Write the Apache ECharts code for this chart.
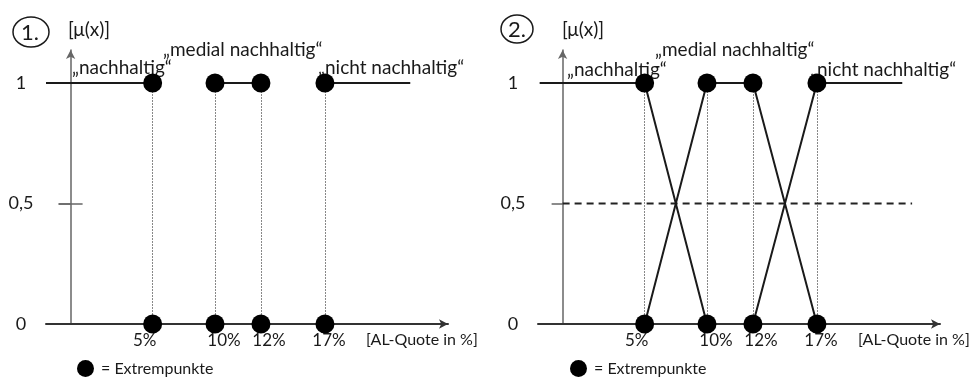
<!DOCTYPE html>
<html>
<head>
<meta charset="utf-8">
<script src="https://cdn.jsdelivr.net/npm/echarts@6/dist/echarts.min.js"></script>
<style>
	html, body { margin: 0; padding: 0; background: #fff; }
	#chart { width: 980px; height: 378px; }
</style>
</head>
<body>
<div id="chart"></div>
<script>
// schematic x positions of the extreme points (not to scale in the original)
const xPos = [5, 8.8, 11.6, 15.5]
const xLabels = ['5%', '10%', '12%', '17%']
const yTicks = [0, 0.5, 1]
const yLabels = ['0', '0,5', '1']
const xEnd = 20.7

// 1. crisp sets: membership 1 on these stretches
const crispTop = [[-1.5, 5], [8.8, 11.6], [15.5, xEnd]]
// 2. fuzzy sets
const fuzzyNachhaltig = [[-1.4, 1], [5, 1], [8.8, 0]]
const fuzzyMedial = [[5, 0], [8.8, 1], [11.6, 1], [15.5, 0]]
const fuzzyNicht = [[11.6, 0], [15.5, 1], [xEnd, 1]]
const halfLine = [[0, 0.5], [21.3, 0.5]]
const tickHalf = [[-0.73, 0.5], [0.73, 0.5]]

const FONT = 'Lato'
const ink = '#1a1a1a'
// labels in the original sit a little off their points (px nudge, style only)
const labelNudge = [-8, 9, 8, 4]

let chart = echarts.init(document.getElementById('chart'))

let extremes = []
xPos.forEach(x => { extremes.push([x, 0]); extremes.push([x, 1]) })
let verticals = xPos.map(x => ({ coords: [[x, 0], [x, 1]] }))

let rich = {}
labelNudge.forEach((n, i) => {
	rich['l' + i] = {
		color: ink, fontFamily: FONT, fontSize: 17,
		padding: n > 0 ? [0, 0, 0, 2 * n] : [0, -2 * n, 0, 0],
	}
})

function xAxis(gi) {
	return {
		type: 'value', gridIndex: gi, min: -1.5, max: 23,
		axisLine: { onZero: true, symbol: ['none', 'arrow'], symbolSize: [7, 9], lineStyle: { color: '#333', width: 2 } },
		axisTick: { show: false },
		splitLine: { show: false },
		axisLabel: {
			customValues: xPos, margin: 8,
			color: ink, fontFamily: FONT, fontSize: 17,
			rich: rich,
			formatter: v => {
				let i = xPos.indexOf(v)
				return i < 0 ? '' : `{l${i}|${xLabels[i]}}`
			},
		},
	}
}
function yAxis(gi, tickLen) {
	return {
		type: 'value', gridIndex: gi, min: 0, max: 1.137,
		axisLine: { onZero: true, symbol: ['none', 'arrow'], symbolSize: [7, 9], lineStyle: { color: '#666', width: 1.5 } },
		axisTick: { show: true, customValues: [0.5], length: tickLen, lineStyle: { color: '#666', width: 1.5 } },
		splitLine: { show: false },
		axisLabel: {
			customValues: yTicks, margin: 25, align: 'center',
			color: ink, fontFamily: FONT, fontSize: 18,
			formatter: v => yLabels[yTicks.indexOf(v)] || '',
		},
	}
}

function text(x, y, s, size) {
	return { type: 'text', x: x, y: y, style: { text: s, fill: ink, font: `${size}px ${FONT}`, verticalAlign: 'middle' } }
}

let legendStyle = {
	top: 360, padding: 0, icon: 'circle', itemWidth: 17, itemHeight: 17, itemGap: 4,
	data: ['= Extrempunkte'], selectedMode: false,
	textStyle: { color: ink, fontFamily: FONT, fontSize: 16, padding: [0, 0, 0, 2] },
}

let option = {
	animation: false,
	backgroundColor: '#fff',
	grid: [
		{ left: 46, right: 532, top: 50, bottom: 54, outerBoundsMode: 'none' },
		{ left: 538, right: 40, top: 50, bottom: 54, outerBoundsMode: 'none' },
	],
	xAxis: [xAxis(0), xAxis(1)],
	yAxis: [yAxis(0, 12), yAxis(1, 11)],
	legend: [
		Object.assign({ left: 77 }, legendStyle),
		Object.assign({ left: 570 }, legendStyle),
	],
	series: [
		// panel 1
		{
			type: 'lines', coordinateSystem: 'cartesian2d', xAxisIndex: 0, yAxisIndex: 0,
			data: verticals, lineStyle: { color: '#888', width: 1, type: [2, 1], opacity: 1 },
		},
		{
			type: 'lines', coordinateSystem: 'cartesian2d', xAxisIndex: 0, yAxisIndex: 0,
			data: crispTop.map(s => ({ coords: [[s[0], 1], [s[1], 1]] })),
			lineStyle: { color: ink, width: 2, opacity: 1 },
		},
		{
			type: 'lines', coordinateSystem: 'cartesian2d', xAxisIndex: 0, yAxisIndex: 0,
			data: [{ coords: tickHalf }], lineStyle: { color: '#666', width: 1.5, opacity: 1 },
		},
		{
			name: '= Extrempunkte', type: 'scatter', xAxisIndex: 0, yAxisIndex: 0,
			data: extremes, symbolSize: 19, itemStyle: { color: '#000', opacity: 1 }, z: 5,
		},
		// panel 2
		{
			type: 'lines', coordinateSystem: 'cartesian2d', xAxisIndex: 1, yAxisIndex: 1,
			data: verticals, lineStyle: { color: '#888', width: 1, type: [2, 1], opacity: 1 },
		},
		{
			type: 'line', xAxisIndex: 1, yAxisIndex: 1, data: halfLine, symbol: 'none',
			lineStyle: { color: '#222', width: 1.8, type: [7, 5] },
		},
		...[fuzzyNachhaltig, fuzzyMedial, fuzzyNicht].map(d => ({
			type: 'line', xAxisIndex: 1, yAxisIndex: 1, data: d, symbol: 'none',
			lineStyle: { color: ink, width: 2 },
		})),
		{
			name: '= Extrempunkte', type: 'scatter', xAxisIndex: 1, yAxisIndex: 1,
			data: extremes, symbolSize: 19, itemStyle: { color: '#000', opacity: 1 }, z: 5,
		},
	],
	graphic: [
		{ type: 'ellipse', shape: { cx: 31, cy: 32, rx: 18, ry: 15 }, style: { fill: 'none', stroke: ink, lineWidth: 1.5 } },
		{ type: 'text', x: 30, y: 33, style: { text: '1.', fill: ink, font: `22px ${FONT}`, align: 'center', verticalAlign: 'middle' } },
		{ type: 'ellipse', shape: { cx: 517, cy: 29, rx: 16, ry: 14 }, style: { fill: 'none', stroke: ink, lineWidth: 1.5 } },
		{ type: 'text', x: 517, y: 30, style: { text: '2.', fill: ink, font: `22px ${FONT}`, align: 'center', verticalAlign: 'middle' } },
		text(68, 30, '[μ(x)]', 19), text(562, 30, '[μ(x)]', 19),
		text(72, 68, '„nachhaltig“', 19), text(163, 50, '„medial nachhaltig“', 19), text(318, 68, '„nicht nachhaltig“', 19),
		text(567, 70, '„nachhaltig“', 19), text(655, 50, '„medial nachhaltig“', 19), text(810, 70, '„nicht nachhaltig“', 19),
		text(366, 340, '[AL-Quote in %]', 16), text(858, 340, '[AL-Quote in %]', 16),
	],
}
chart.setOption(option)
</script>
</body>
</html>
